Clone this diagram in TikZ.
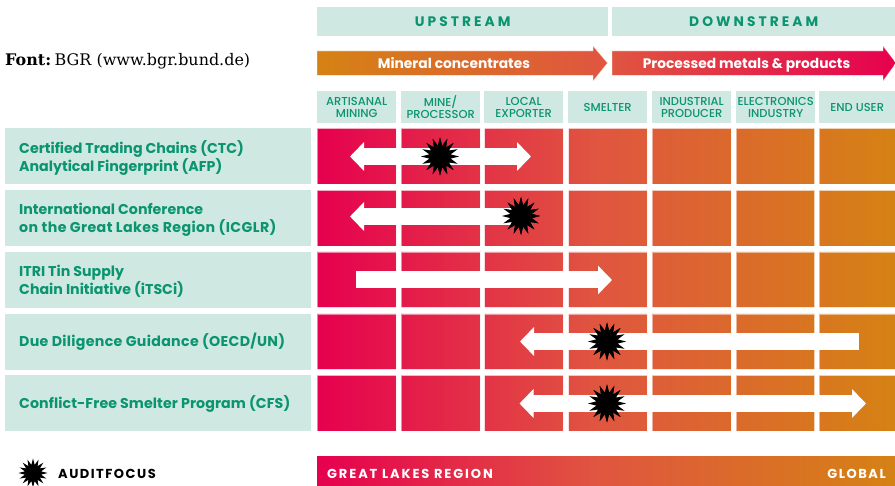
\documentclass[tikz,border=0pt]{standalone}
\usepackage{fontspec}
\setmainfont{Poppins}[BoldFont={Poppins Bold}]
\newfontfamily\medfont{Poppins Medium}
\newfontfamily\slabfont{DejaVu Serif}
\usetikzlibrary{shapes.geometric,arrows.meta}
\definecolor{paleG}{HTML}{CFE8E1}
\definecolor{txtG}{HTML}{0A9470}
\definecolor{cRed}{HTML}{E6004F}
\definecolor{cMid}{HTML}{E05540}
\definecolor{cOrg}{HTML}{D58214}
\pgfdeclarehorizontalshading{fullgrad}{100bp}{color(0bp)=(cRed); color(25bp)=(cRed); color(49bp)=(cMid); color(75bp)=(cOrg); color(100bp)=(cOrg)}
\newcommand{\gridcells}{\foreach \xa/\xb in {317/396,401/480,484.5/563,568.5/647,652/731,736/814.5,819/895}{\foreach \ya/\yb in {128.5/184,190.5/246,252/307.5,314/369.5,375.5/431}{(\xa,\ya) rectangle (\xb,\yb)}}}
\newcommand{\colhead}[4]{\node[colbox,minimum width=#3pt] (c#1) at (#2,107) {};\node[coltext] (ct#1) at ([yshift=-.2pt]c#1.center) {#4};}
\newcommand{\rowhead}[4]{\node[rowbox] (r#1) at (5,#2) {};\node[rowtext] (rt#1) at (19,#3) {#4};}
\newcommand{\wider}[2]{{\addfontfeature{LetterSpace=#1}#2}}
\tikzset{x=1pt,y=-1pt,
  headbox/.style={fill=paleG,text=txtG,font=\bfseries\fontsize{13.8}{14}\selectfont\addfontfeature{LetterSpace=22},minimum height=29pt,inner sep=0pt,anchor=west},
  colbox/.style={fill=paleG,minimum height=32pt,inner sep=0pt,anchor=west},
  coltext/.style={text=txtG,font=\medfont\fontsize{11.5}{12}\selectfont,align=center,inner sep=0pt},
  rowbox/.style={fill=paleG,minimum height=56pt,minimum width=306pt,inner sep=0pt,anchor=west},
  rowtext/.style={text=txtG,font=\bfseries\fontsize{14.2}{17.8}\selectfont,align=left,inner sep=0pt,anchor=west},
  banner/.style={text=white,font=\bfseries\fontsize{13.8}{14}\selectfont,inner sep=0pt,anchor=base},
  flow/.style={draw=white,line width=17pt},
  bigtip/.tip={Triangle[length=14pt,width=28pt]},
  burst/.style={star,star points=16,star point ratio=1.75,fill=black,inner sep=0pt,minimum size=38pt},
}
\begin{document}
\begin{tikzpicture}
\useasboundingbox (0,0) rectangle (895,486);
% source
\node[anchor=west,inner sep=0pt,font=\fontsize{15.95}{17}\selectfont\slabfont] (src) at (5,61) {\textbf{Font:}\hspace{-.2em} BGR (www.bgr.bund.de)};
% stream headers
\node[headbox,minimum width=291pt] (up) at (317,21.5) {UPSTREAM};
\node[headbox,minimum width=283pt] (down) at (612,21.5) {DOWNSTREAM};
% stream arrows
\shade[left color=cOrg,right color=cMid,draw=white,draw opacity=.45,line width=.7pt] (317,51) -- (593,51) -- (593,46) -- (607.5,63) -- (593,81) -- (593,75.5) -- (317,75.5) -- cycle;
\shade[left color=cMid,right color=cRed,draw=white,draw opacity=.45,line width=.7pt] (612,51) -- (883,51) -- (883,46) -- (896,63) -- (883,81) -- (883,75.5) -- (612,75.5) -- cycle;
\node[banner] (mc) at (454,68.5) {Mineral concentrates};
\node[banner] (pm) at (746.5,68.5) {Processed metals \& products};
% column headers
\colhead{1}{317}{79}{ARTISANAL\\MINING}
\colhead{2}{401}{79}{MINE/\\PROCESSOR}
\colhead{3}{484}{79}{LOCAL\\EXPORTER}
\colhead{4}{568}{79}{SMELTER}
\colhead{5}{652}{79}{INDUSTRIAL\\PRODUCER}
\colhead{6}{736}{79}{ELECTRONICS\\INDUSTRY}
\colhead{7}{819}{76}{END USER}
% row headers
\rowhead{1}{156}{158}{Certified Trading Chains (CTC)\\Analytical Fingerprint (AFP)}
\rowhead{2}{218}{219.5}{International Conference\\\wider{2.8}{on the Great Lakes Region (ICGLR)}}
\rowhead{3}{280}{281}{ITRI Tin Supply\\Chain Initiative (iTSCi)}
\rowhead{4}{342}{342}{\wider{2.2}{Due Diligence Guidance (OECD/UN)}}
\rowhead{5}{403}{404}{\wider{.6}{Conflict-Free Smelter Program (CFS)}}
% cells
\path[shade,shading=fullgrad] \gridcells;
\draw[white,opacity=.5,line width=.7pt] \gridcells;
% stars
\node[burst] (s1) at (440,156.5) {};
\node[burst] (s2) at (521,216) {};
\node[burst] (s4) at (607,341.5) {};
\node[burst] (s5) at (607,403.5) {};
% arrow ends
\coordinate (a1l) at (350,156.5);
\coordinate (a1r) at (531,156.5);
\coordinate (a2l) at (350,216.5);
\coordinate (a3l) at (356,280);
\coordinate (a3r) at (612,280);
\coordinate (a4l) at (520,341.5);
\coordinate (a4r) at (859,341.5);
\coordinate (a5l) at (519.5,403.5);
\coordinate (a5r) at (866,403.5);
\draw[flow,{bigtip}-{bigtip}] (a1l) -- (a1r);
\draw[flow,{bigtip}-] (a2l) -- (s2.center |- a2l);
\draw[flow,-{bigtip}] (a3l) -- (a3r);
\draw[flow,{bigtip}-] (a4l) -- (a4r);
\draw[flow,{bigtip}-{bigtip}] (a5l) -- (a5r);
\node[burst] at (s1.center) {};
\node[burst] at (s2.center) {};
\node[burst] at (s4.center) {};
\node[burst] at (s5.center) {};
% legend
\node[burst,minimum size=29pt] (lg) at (33,473) {};
\node[anchor=west,inner sep=0pt,font=\bfseries\fontsize{13}{14}\selectfont\addfontfeature{LetterSpace=11.5}] (lgt) at (58,473.5) {AUDITFOCUS};
\shade[shading=fullgrad] (317,457) rectangle (895,486);
\node[anchor=west,inner sep=0pt,text=white,font=\bfseries\fontsize{13}{14}\selectfont\addfontfeature{LetterSpace=14.5}] (gl) at (327,473.5) {GREAT LAKES REGION};
\node[anchor=east,inner sep=0pt,text=white,font=\bfseries\fontsize{13}{14}\selectfont\addfontfeature{LetterSpace=12}] (gb) at (886,473.5) {GLOBAL};
\end{tikzpicture}
\end{document}
